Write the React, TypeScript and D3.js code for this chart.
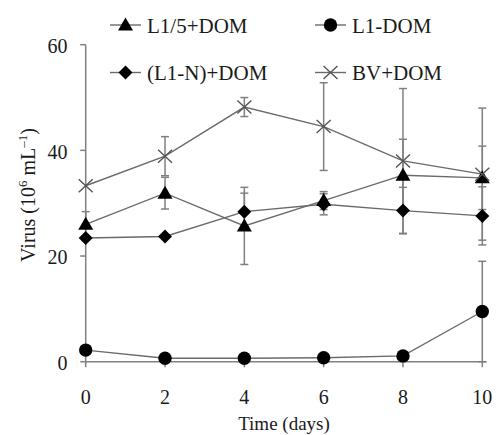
import React from "react";
import * as d3 from "d3";

const days = [0, 2, 4, 6, 8, 10];
const l15Dom = [26.0, 31.9, 25.7, 30.5, 35.3, 34.8];
const l15Err = [2.4, 3.0, 7.3, 1.7, 6.8, 6.0];
const l1Dom = [2.2, 0.64, 0.64, 0.76, 1.1, 9.5];
const l1Err = [0, 0, 0, 0, 0, 9.5];
const l1nDom = [23.4, 23.7, 28.4, 29.8, 28.6, 27.6];
const l1nErr = [0, 0, 3.5, 2.0, 4.4, 5.5];
const bvDom = [33.3, 38.9, 48.2, 44.5, 38.0, 35.5];
const bvErr = [0, 3.7, 1.8, 8.3, 13.7, 12.5];
const yTicks = [0, 20, 40, 60];
const xTicks = [0, 2, 4, 6, 8, 10];

type Shape = "triangle" | "circle" | "diamond" | "x";
const seriesList: { name: string; values: number[]; err: number[]; shape: Shape }[] = [
  { name: "L1/5+DOM", values: l15Dom, err: l15Err, shape: "triangle" },
  { name: "L1-DOM", values: l1Dom, err: l1Err, shape: "circle" },
  { name: "(L1-N)+DOM", values: l1nDom, err: l1nErr, shape: "diamond" },
  { name: "BV+DOM", values: bvDom, err: bvErr, shape: "x" },
];

const FONT = "'Liberation Serif', 'Times New Roman', serif";
const GRAY = "#808080";
const LINE = "#6a6a6a";

function Marker({ shape, cx, cy }: { shape: Shape; cx: number; cy: number }) {
  if (shape === "triangle")
    return <path d={`M${cx},${cy - 7.5} L${cx + 7.5},${cy + 5.5} L${cx - 7.5},${cy + 5.5} Z`} fill="#000" />;
  if (shape === "circle") return <circle cx={cx} cy={cy} r={6.7} fill="#000" />;
  if (shape === "diamond")
    return <path d={`M${cx},${cy - 7} L${cx + 7},${cy} L${cx},${cy + 7} L${cx - 7},${cy} Z`} fill="#000" />;
  return (
    <path
      d={`M${cx - 7},${cy - 6.5} L${cx + 7},${cy + 6.5} M${cx - 7},${cy + 6.5} L${cx + 7},${cy - 6.5}`}
      stroke="#555"
      strokeWidth={1.4}
      fill="none"
    />
  );
}

export default function App() {
  const x = d3.scaleLinear().domain([0, 10]).range([85.7, 482.3]);
  const y = d3.scaleLinear().domain([0, 60]).range([361.7, 44.7]);
  const line = d3
    .line<number>()
    .x((_, i) => x(days[i]))
    .y((d) => y(d));

  const legendPos = [
    { lx: 110, ly: 25 },
    { lx: 315, ly: 25 },
    { lx: 110, ly: 72.5 },
    { lx: 315, ly: 72.5 },
  ];

  return (
    <svg
      width={496}
      height={435}
      style={{ position: "absolute", left: 0, top: 0, background: "#fff" }}
      fontFamily={FONT}
    >
      {/* axes */}
      <line x1={x(0)} x2={x(0)} y1={y(0)} y2={y(60)} stroke={GRAY} strokeWidth={1.5} />
      <line x1={x(0)} x2={486.5} y1={y(0)} y2={y(0)} stroke={GRAY} strokeWidth={1.5} />
      {yTicks.map((t) => (
        <g key={"y" + t}>
          <line x1={x(0) - 5.5} x2={x(0)} y1={y(t)} y2={y(t)} stroke={GRAY} strokeWidth={1.5} />
          <text x={67.5} y={y(t) + 8.3} textAnchor="end" fontSize={20} fill="#1a1a1a">
            {t}
          </text>
        </g>
      ))}
      {xTicks.map((t) => (
        <g key={"x" + t}>
          <line x1={x(t)} x2={x(t)} y1={y(0)} y2={y(0) + 5.5} stroke={GRAY} strokeWidth={1.5} />
          <text x={x(t)} y={404} textAnchor="middle" fontSize={20} fill="#1a1a1a">
            {t}
          </text>
        </g>
      ))}
      <text x={x(5)} y={430} textAnchor="middle" fontSize={19} fill="#1a1a1a">
        Time (days)
      </text>
      <text
        transform={`translate(35,195) rotate(-90)`}
        textAnchor="middle"
        fontSize={20}
        fill="#1a1a1a"
      >
        Virus (10
        <tspan fontSize={13} dy={-8}>6</tspan>
        <tspan dy={8}> mL</tspan>
        <tspan fontSize={13} dy={-8}>–1</tspan>
        <tspan dy={8}>)</tspan>
      </text>

      {/* error bars */}
      {seriesList.map((s) =>
        s.values.map((v, i) =>
          s.err[i] > 0 ? (
            <g key={s.name + "e" + i} stroke={GRAY} strokeWidth={1.5}>
              <line x1={x(days[i])} x2={x(days[i])} y1={y(v - s.err[i])} y2={y(v + s.err[i])} />
              <line x1={x(days[i]) - 4} x2={x(days[i]) + 4} y1={y(v + s.err[i])} y2={y(v + s.err[i])} />
              <line x1={x(days[i]) - 4} x2={x(days[i]) + 4} y1={y(v - s.err[i])} y2={y(v - s.err[i])} />
            </g>
          ) : null
        )
      )}

      {/* lines */}
      {seriesList.map((s) => (
        <path key={s.name + "l"} d={line(s.values) || ""} fill="none" stroke={LINE} strokeWidth={1.4} />
      ))}

      {/* markers */}
      {seriesList.map((s) =>
        s.values.map((v, i) => <Marker key={s.name + "m" + i} shape={s.shape} cx={x(days[i])} cy={y(v)} />)
      )}

      {/* legend */}
      {seriesList.map((s, k) => {
        const { lx, ly } = legendPos[k];
        return (
          <g key={s.name + "leg"}>
            <line x1={lx} x2={lx + 31} y1={ly} y2={ly} stroke={LINE} strokeWidth={1.4} />
            <Marker shape={s.shape} cx={lx + 15.5} cy={ly} />
            <text x={lx + 37} y={ly + 7.5} fontSize={21} fill="#1a1a1a">
              {s.name}
            </text>
          </g>
        );
      })}
    </svg>
  );
}
